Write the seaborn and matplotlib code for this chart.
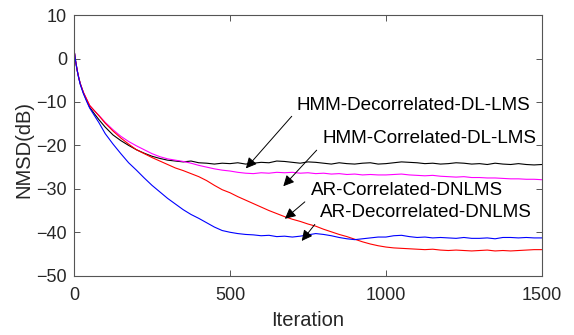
import matplotlib
matplotlib.use("Agg")
import matplotlib.pyplot as plt
import pandas as pd
import seaborn as sns

# iteration grid (denser at the start where curves drop fast)
iterations = [0, 5, 10, 15, 20, 30, 40, 50, 65, 80] + list(range(100, 1501, 25))

# NMSD in dB
hmm_decorr = [2.0, -0.6, -2.7, -4.4, -5.8, -7.9, -9.6, -11.2, -12.7, -14.1,
              -15.8, -17.6, -18.9, -20.0, -21.0, -21.8, -22.5, -23.0, -23.4, -23.6,
              -23.8, -23.6, -24.0, -24.1, -24.3, -24.1, -24.2, -24.0, -24.3, -24.1,
              -23.9, -24.0, -23.6, -23.7, -23.9, -24.1, -23.8, -23.9, -24.1, -24.3,
              -24.0, -24.2, -24.3, -24.1, -24.0, -24.3, -24.2, -24.0, -23.8, -23.9,
              -24.0, -24.2, -24.1, -24.3, -24.2, -24.0, -24.1, -24.3, -24.2, -24.4,
              -24.1, -24.3, -24.4, -24.2, -24.4, -24.5, -24.4]
hmm_corr = [2.0, -0.6, -2.7, -4.4, -5.8, -7.8, -9.3, -10.8, -12.0, -13.1,
            -14.7, -16.4, -17.9, -19.1, -20.1, -21.0, -21.9, -22.6, -23.1, -23.4,
            -23.7, -24.1, -24.6, -25.0, -25.4, -25.7, -25.9, -26.2, -26.4, -26.5,
            -26.3, -26.4, -26.2, -26.3, -26.2, -26.4, -26.3, -26.5, -26.4, -26.6,
            -26.5, -26.7, -26.6, -26.8, -26.7, -26.8, -26.8, -26.7, -26.6, -26.8,
            -26.9, -27.0, -26.9, -27.1, -27.2, -27.3, -27.2, -27.4, -27.4, -27.5,
            -27.5, -27.6, -27.7, -27.7, -27.8, -27.8, -27.9]
ar_corr = [2.0, -0.6, -2.7, -4.4, -5.8, -7.8, -9.3, -10.8, -12.0, -13.2,
           -14.9, -16.7, -18.3, -19.7, -21.0, -21.9, -22.8, -23.6, -24.4, -25.2,
           -25.8, -26.5, -27.2, -28.1, -29.2, -30.2, -30.9, -31.8, -32.6, -33.4,
           -34.2, -35.0, -35.7, -36.4, -37.0, -37.5, -38.1, -38.6, -39.3, -39.9,
           -40.5, -41.0, -41.6, -42.2, -42.7, -43.1, -43.4, -43.6, -43.7, -43.8,
           -43.9, -44.0, -43.9, -44.1, -44.2, -44.1, -44.2, -44.3, -44.2, -44.1,
           -44.3, -44.2, -44.3, -44.2, -44.1, -44.0, -44.0]
ar_decorr = [2.0, -0.6, -2.7, -4.5, -6.0, -8.1, -9.8, -11.4, -13.1, -14.8,
             -17.3, -19.7, -21.9, -24.0, -25.7, -27.5, -29.2, -30.7, -32.2, -33.5,
             -34.8, -35.9, -36.8, -37.8, -38.8, -39.6, -40.0, -40.3, -40.5, -40.6,
             -40.8, -40.7, -41.0, -40.9, -41.1, -40.9, -40.6, -40.3, -40.5, -40.8,
             -41.2, -41.5, -41.7, -41.5, -41.3, -41.1, -41.1, -40.8, -40.7, -41.0,
             -41.2, -41.1, -41.3, -41.2, -41.3, -41.4, -41.2, -41.4, -41.4, -41.3,
             -41.5, -41.2, -41.2, -41.3, -41.2, -41.3, -41.3]

names = ["HMM-Decorrelated-DL-LMS", "HMM-Correlated-DL-LMS",
         "AR-Correlated-DNLMS", "AR-Decorrelated-DNLMS"]
series = [hmm_decorr, hmm_corr, ar_corr, ar_decorr]
colors = ["black", "#ff00ff", "red", "blue"]

rows = []
for name, vals in zip(names, series):
    for it, v in zip(iterations, vals):
        rows.append({"iteration": it, "nmsd": v, "method": name})
df = pd.DataFrame(rows)

sns.set_style("ticks")
plt.rcParams['font.family'] = ['Liberation Sans', 'DejaVu Sans']

fig = plt.figure(figsize=(5.74, 3.35), dpi=100)
ax = fig.add_axes([0.129, 0.177, 0.815, 0.778])

sns.lineplot(ax=ax, data=df, x="iteration", y="nmsd", hue="method",
             hue_order=names, palette=dict(zip(names, colors)),
             linewidth=0.8, legend=False)

ax.set_xlim(0, 1500)
ax.set_ylim(-50, 10)
ax.set_xticks([0, 500, 1000, 1500])
ax.set_yticks([10, 0, -10, -20, -30, -40, -50])
ax.tick_params(direction="in", top=True, right=True, length=4, width=0.7,
               labelsize=13, labelcolor="#262626", color="#555555")
ax.tick_params(axis="x", pad=8)
ax.tick_params(axis="y", pad=5)
for sp in ax.spines.values():
    sp.set_linewidth(0.8)
    sp.set_color("#555555")
ax.set_xlabel("Iteration", fontsize=14.5, color="#262626", labelpad=5)
ax.set_ylabel("NMSD(dB)", fontsize=14.5, color="#262626", labelpad=0)
ax.yaxis.set_label_coords(-0.088, 0.485)

# annotations: (text, text position, arrow tail, arrow tip)
notes = [
    ("HMM-Decorrelated-DL-LMS", (714, -10.8), (698, -13.3), (551, -25.3)),
    ("HMM-Correlated-DL-LMS", (797, -18.4), (778, -21.1), (671, -29.4)),
    ("AR-Correlated-DNLMS", (760, -30.3), (740, -33.0), (676, -36.9)),
    ("AR-Decorrelated-DNLMS", (788, -35.4), (772, -38.2), (730, -42.0)),
]
for label, txt_pos, tail, tip in notes:
    ax.text(txt_pos[0], txt_pos[1], label, fontsize=13.6, ha="left",
            va="center", color="black")
    ax.annotate("", xy=tip, xytext=tail,
                arrowprops=dict(arrowstyle="-|>", color="black", lw=0.7,
                                mutation_scale=16, shrinkA=0, shrinkB=0))

plt.savefig("out.png", dpi=100)
